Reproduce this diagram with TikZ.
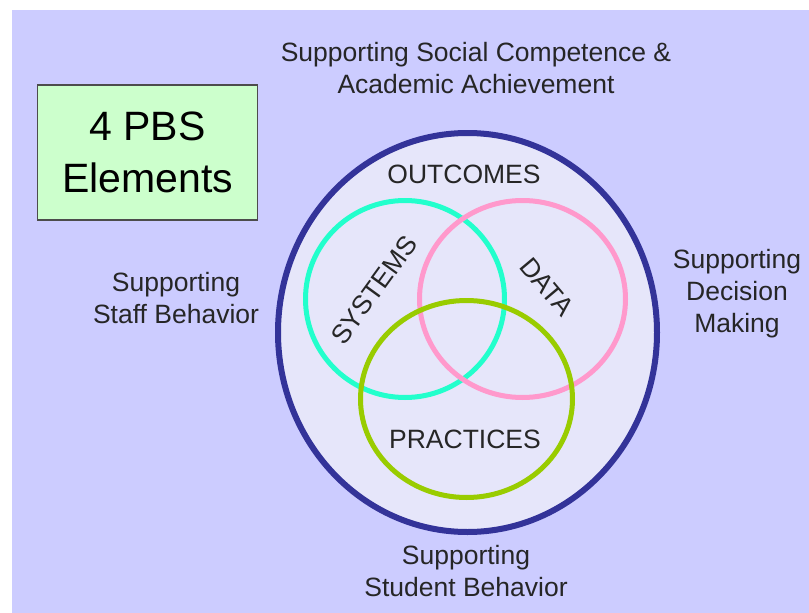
\documentclass[tikz,border=0pt]{standalone}
\usepackage{fontspec}
\setmainfont{Liberation Sans}
\definecolor{bglav}{HTML}{CCCCFF}
\definecolor{innerfill}{HTML}{E6E6FA}
\definecolor{navy}{HTML}{333399}
\definecolor{cyanring}{HTML}{22FFCC}
\definecolor{pinkring}{HTML}{FF99CC}
\definecolor{greenring}{HTML}{99CC00}
\definecolor{boxgreen}{HTML}{CCFFCC}
\tikzset{
  lbl/.style={font=\fontsize{26.5}{32}\selectfont, align=center, inner sep=0pt, text=black!85},
  ring/.style={line width=5pt},
}
\begin{document}
\begin{tikzpicture}[x=1pt,y=-1pt]
\useasboundingbox (0,0) rectangle (809,613);
\fill[white] (0,0) rectangle (809,613);
\fill[bglav] (12,10) rectangle (809,613);
% title box
\node[draw=black!70, fill=boxgreen, line width=1.2pt, minimum width=220pt, minimum height=135pt, inner sep=0pt,
      font=\fontsize{41}{52}\selectfont, align=center] (box) at (147.5,152.5) {4 PBS\\Elements};
% outer circle
\draw[navy, line width=6pt, fill=innerfill] (467.5,332.5) ellipse [x radius=189.5, y radius=199.5];
\coordinate (outer) at (467.5,332.5);
% rings
\draw[ring, cyanring] (405,299) ellipse [x radius=99.5, y radius=98.5];
\draw[ring, pinkring] (522.5,299) ellipse [x radius=103, y radius=98.5];
\draw[ring, greenring] (466.5,399) ellipse [x radius=106, y radius=98.5];
% inner labels
\node[lbl] (outc) at (464,174) {OUTCOMES};
\node[lbl] (prac) at (465,439) {PRACTICES};
\node[lbl, rotate=54] (sys) at (374,290) {SYSTEMS};
\node[lbl, rotate=-50] (data) at (547,287) {DATA};
% outer labels
\node[lbl] (social) at (476,68) {Supporting Social Competence \&\\Academic Achievement};
\node[lbl] (staff) at (176,298) {Supporting\\Staff Behavior};
\node[lbl] (decision) at (737,294) {Supporting\\Decision\\Making};
\node[lbl] (student) at (466,571) {Supporting\\Student Behavior};
\end{tikzpicture}
\end{document}
